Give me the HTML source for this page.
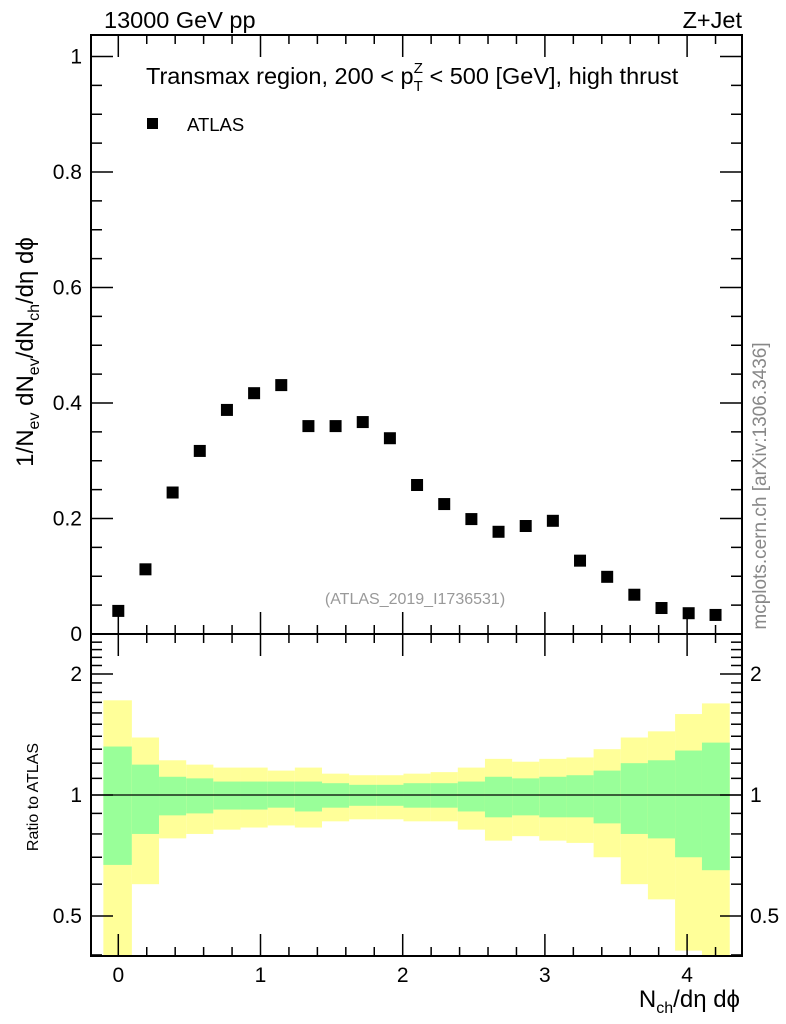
<!DOCTYPE html>
<html><head><meta charset="utf-8"><style>
html,body{margin:0;padding:0;background:#fff}
svg{display:block;font-family:"Liberation Sans",sans-serif}
</style></head><body>
<svg id="chart" width="786" height="1024" xmlns="http://www.w3.org/2000/svg">
<g id="bands"></g>
<g id="axes"></g>
<g id="points"></g>
<text x="104" y="28" font-size="23.5">13000 GeV pp</text>
<text x="742" y="28" font-size="23.5" text-anchor="end">Z+Jet</text>
<text x="146" y="84" font-size="23.5">Transmax region, 200 &lt; p<tspan font-size="15" dy="7">T</tspan><tspan font-size="15" dx="-9" dy="-18">Z</tspan><tspan dy="11"> &lt; 500 [GeV], high thrust</tspan></text>
<rect x="147" y="118" width="11" height="11" fill="#000"/>
<text x="187" y="131" font-size="18.5">ATLAS</text>
<text x="415" y="604" font-size="16" fill="#999" text-anchor="middle">(ATLAS_2019_I1736531)</text>
<text transform="translate(766,486) rotate(-90)" font-size="19" fill="#888" text-anchor="middle">mcplots.cern.ch [arXiv:1306.3436]</text>
<text transform="translate(33,352) rotate(-90)" font-size="24" text-anchor="middle">1/N<tspan font-size="16" dy="6">ev</tspan><tspan dy="-6"> dN</tspan><tspan font-size="16" dy="6">ev</tspan><tspan dy="-6">/dN</tspan><tspan font-size="16" dy="6">ch</tspan><tspan dy="-6">/dη dϕ</tspan></text>
<text transform="translate(38,797) rotate(-90)" font-size="16" text-anchor="middle">Ratio to ATLAS</text>
<text x="740" y="1007" font-size="24" text-anchor="end">N<tspan font-size="16" dy="6">ch</tspan><tspan dy="-6">/dη dϕ</tspan></text>
</svg>
<script>
const xCenters=[0,0.191,0.382,0.573,0.764,0.955,1.146,1.337,1.528,1.719,1.91,2.101,2.292,2.483,2.674,2.865,3.056,3.247,3.438,3.629,3.82,4.011,4.2];
const yValues=[0.040,0.112,0.245,0.317,0.388,0.417,0.431,0.360,0.360,0.367,0.339,0.258,0.225,0.199,0.177,0.187,0.196,0.127,0.099,0.068,0.045,0.036,0.033];
const yellowHi=[1.72,1.39,1.22,1.19,1.17,1.17,1.15,1.17,1.13,1.12,1.12,1.13,1.14,1.17,1.23,1.21,1.23,1.24,1.30,1.39,1.44,1.59,1.69];
const greenHi=[1.32,1.19,1.11,1.10,1.08,1.08,1.08,1.08,1.07,1.06,1.06,1.07,1.07,1.08,1.11,1.10,1.11,1.12,1.15,1.20,1.22,1.29,1.35];
const greenLo=[0.67,0.80,0.89,0.90,0.92,0.92,0.93,0.91,0.93,0.94,0.94,0.93,0.93,0.91,0.88,0.89,0.88,0.88,0.85,0.80,0.78,0.70,0.65];
const yellowLo=[0.30,0.60,0.78,0.80,0.82,0.83,0.84,0.83,0.86,0.87,0.87,0.86,0.86,0.82,0.77,0.79,0.77,0.76,0.70,0.60,0.55,0.41,0.30];
const mainTicks=[0,0.2,0.4,0.6,0.8,1];
const mainTickLabels=["0","0.2","0.4","0.6","0.8","1"];
const xTicks=[0,1,2,3,4];
const ratioTicks=[0.5,1,2];
const ratioTickLabels=["0.5","1","2"];

const L=91,R=742,T=35,MB=634,RB=956;
const X=v=>118.3+v*142.2;
const Y=v=>634-v*577.5;
const RY=v=>795-Math.log2(v)*121;
const NS="http://www.w3.org/2000/svg";
function mk(parent,tag,attrs){const e=document.createElementNS(NS,tag);for(const k in attrs)e.setAttribute(k,attrs[k]);parent.appendChild(e);return e;}
const bands=document.getElementById('bands'),axes=document.getElementById('axes'),pts=document.getElementById('points');
const half=0.0955;
xCenters.forEach((c,i)=>{
  const x0=X(c-(i==0?0.105:half)),x1=X(c+(i==xCenters.length-1?0.1:half));
  let y1=Math.max(MB,RY(yellowHi[i])),y2=Math.min(RB,RY(yellowLo[i]));
  let r=mk(bands,'rect',{x:x0,y:y1,width:x1-x0,height:y2-y1,fill:'#ffff99'});
  
  
  y1=Math.max(MB,RY(greenHi[i]));y2=Math.min(RB,RY(greenLo[i]));
  r=mk(bands,'rect',{x:x0,y:y1,width:x1-x0,height:y2-y1,fill:'#99ff99'});
  
  
  const p=mk(pts,'rect',{x:X(c)-6,y:Y(yValues[i])-6,width:12,height:12,fill:'#000'});
  
  
});
mk(axes,'line',{x1:L,x2:R,y1:RY(1),y2:RY(1),stroke:'#000','stroke-width':1.3});
mk(axes,'rect',{x:L,y:T,width:R-L,height:MB-T,fill:'none',stroke:'#000','stroke-width':2});
mk(axes,'rect',{x:L,y:MB,width:R-L,height:RB-MB,fill:'none',stroke:'#000','stroke-width':2});
const ln=(x1,y1,x2,y2)=>mk(axes,'line',{x1,y1,x2,y2,stroke:'#000','stroke-width':1.5});
for(let k=-0.2;k<=4.3;k+=0.2){const v=Math.round(k*10)/10;const x=X(v);if(x<L||x>R)continue;
  const big=Math.abs(v-Math.round(v))<1e-6;const h=big?22:9;
  ln(x,T,x,T+h);ln(x,MB,x,MB-h);ln(x,MB,x,MB+h);ln(x,RB,x,RB-h);}
xTicks.forEach(v=>{const t=mk(axes,'text',{x:X(v),y:982,'font-size':21,'text-anchor':'middle'});t.textContent=v;
  });
for(let v=0;v<=1.04;v+=0.05){const y=Y(v);const big=Math.abs(v/0.2-Math.round(v/0.2))<1e-6;const h=big?22:11;ln(L,y,L+h,y);ln(R,y,R-h,y);}
mainTicks.forEach((v,i)=>{const t=mk(axes,'text',{x:82,y:Y(v)+7,'font-size':21,'text-anchor':'end'});t.textContent=mainTickLabels[i];
  });
for(let v=0.4;v<=2.5;v+=0.1){const vv=Math.round(v*10)/10;const y=RY(vv);if(y<MB||y>RB)continue;
  const big=(vv==0.5||vv==1||vv==2);const h=big?22:11;ln(L,y,L+h,y);ln(R,y,R-h,y);}
ratioTicks.forEach((v,i)=>{let t=mk(axes,'text',{x:82,y:RY(v)+7,'font-size':21,'text-anchor':'end'});t.textContent=ratioTickLabels[i];
  
  t=mk(axes,'text',{x:750,y:RY(v)+7,'font-size':21});t.textContent=ratioTickLabels[i];
  });
</script>
</body></html>
